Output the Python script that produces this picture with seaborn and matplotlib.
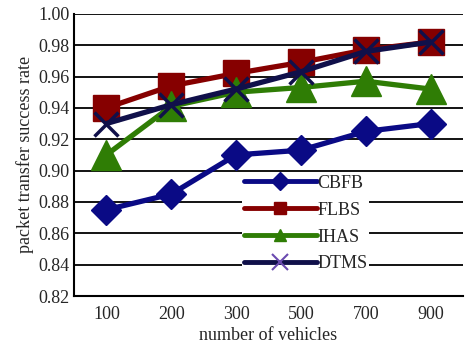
import numpy as np
import pandas as pd
import matplotlib
matplotlib.use("Agg")
import matplotlib.pyplot as plt
import seaborn as sns

vehicles = ["100", "200", "300", "500", "700", "900"]
cbfb = [0.875, 0.885, 0.910, 0.913, 0.925, 0.930]
flbs = [0.940, 0.954, 0.962, 0.969, 0.977, 0.982]
ihas = [0.910, 0.941, 0.950, 0.953, 0.957, 0.952]
dtms = [0.930, 0.942, 0.952, 0.963, 0.976, 0.982]
methods = ["CBFB", "FLBS", "IHAS", "DTMS"]

df = pd.DataFrame({
	"vehicles": vehicles * 4,
	"rate": cbfb + flbs + ihas + dtms,
	"method": [m for m in methods for _ in vehicles],
})

sns.set_style("white")
plt.rcParams['font.family'] = ['Liberation Serif', 'DejaVu Serif']

colors = {"CBFB": "#0a0a85", "FLBS": "#860000", "IHAS": "#2f7d05", "DTMS": "#10104a"}
markers = {"CBFB": "D", "FLBS": "s", "IHAS": "^", "DTMS": "x"}
msizes = {"CBFB": 15, "FLBS": 19, "IHAS": 21, "DTMS": 17}

fig, ax = plt.subplots(1, 1)
fig.set_size_inches(4.71, 3.45)
for m in methods:
	sub = df[df["method"] == m]
	sns.lineplot(x="vehicles", y="rate", data=sub, ax=ax, color=colors[m],
		linewidth=3.8, marker=markers[m], markersize=msizes[m],
		markerfacecolor=colors[m], markeredgecolor=colors[m],
		markeredgewidth=2.5 if m == "DTMS" else 1, label=m, sort=False)

ax.set_ylim(0.82, 1.0)
ax.set_xlim(-0.5, 5.5)
ax.set_yticks(np.arange(0.82, 1.001, 0.02))
ax.set_yticklabels([f"{v:.2f}" for v in np.arange(0.82, 1.001, 0.02)])
ax.yaxis.grid(True, color="black", linewidth=1.3)
ax.set_axisbelow(True)
ax.set_xticks(np.arange(0.5, 6, 1), minor=True)
ax.tick_params(axis="x", which="major", length=0, labelsize=13, pad=7)
ax.tick_params(axis="x", which="minor", direction="in", length=6, width=1.5, color="black")
ax.tick_params(axis="y", length=0, labelsize=13, pad=3)
ax.spines['right'].set_visible(False)
ax.spines['top'].set_visible(False)
ax.spines['left'].set_color("black")
ax.spines['bottom'].set_color("black")
ax.spines['left'].set_linewidth(1.5)
ax.spines['bottom'].set_linewidth(1.5)
ax.set_xlabel("number of vehicles", fontsize=13, labelpad=3)
ax.set_ylabel("packet transfer success rate", fontsize=13, labelpad=3)

leg = ax.legend(loc="lower left", bbox_to_anchor=(0.41, 0.045), frameon=True,
	facecolor="white", edgecolor="none", framealpha=1, fontsize=13,
	handlelength=4.0, handletextpad=0.05, labelspacing=0.55, borderpad=0.1)
for h in leg.legend_handles:
	h.set_markersize(9)
	h.set_linewidth(3.5)
leg.legend_handles[3].set_markeredgecolor("#6a4ab0")
leg.legend_handles[3].set_markeredgewidth(1.5)
leg.legend_handles[3].set_markersize(11)

fig.subplots_adjust(left=0.157, right=0.983, top=0.96, bottom=0.142)
fig.savefig("out.png", dpi=100)
